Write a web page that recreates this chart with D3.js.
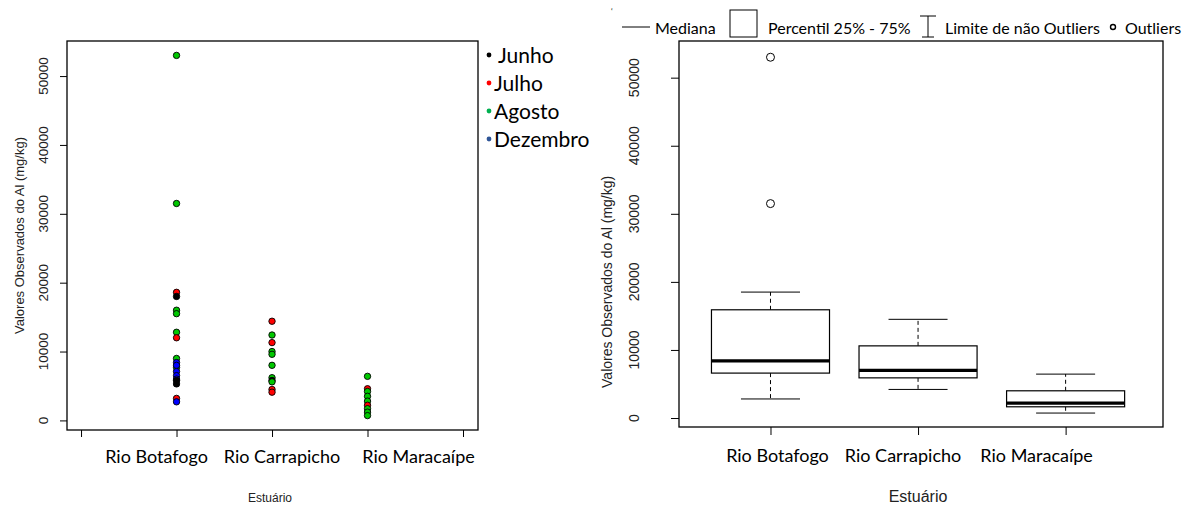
<!DOCTYPE html>
<html>
<head>
<meta charset="utf-8">
<script src="https://cdn.jsdelivr.net/npm/d3@7"></script>
<style>
  html, body { margin: 0; padding: 0; background: #fff; }
  svg { display: block; }
</style>
</head>
<body>
<svg id="chart" width="1184" height="506"></svg>
<script>
// ---------------- DATA ----------------
const categories = ["Rio Botafogo", "Rio Carrapicho", "Rio Maracaípe"];
const months = ["Junho", "Julho", "Agosto", "Dezembro"];
const yTicks = [0, 10000, 20000, 30000, 40000, 50000];

// observed values per estuary (mg/kg) and the month of each sample
const botafogoValues = [53000, 31500, 18600, 18000, 16000, 15500, 12800, 12000, 9000, 8400, 7700, 8000, 7100, 6500, 6000, 5800, 5300, 3200, 2700];
const botafogoMonths = ["Agosto", "Agosto", "Julho", "Junho", "Agosto", "Agosto", "Agosto", "Julho", "Agosto", "Dezembro", "Agosto", "Dezembro", "Dezembro", "Dezembro", "Dezembro", "Junho", "Junho", "Julho", "Dezembro"];
const carrapichoValues = [14400, 12400, 11300, 10000, 9600, 8000, 6200, 5800, 5600, 4500, 4100];
const carrapichoMonths = ["Julho", "Agosto", "Julho", "Agosto", "Agosto", "Agosto", "Agosto", "Junho", "Agosto", "Julho", "Julho"];
const maracaipeValues = [6400, 4600, 4200, 3500, 2800, 2200, 1700, 1200, 700];
const maracaipeMonths = ["Agosto", "Julho", "Agosto", "Agosto", "Agosto", "Julho", "Agosto", "Agosto", "Agosto"];

// box-plot statistics
const whiskerLow  = [2800, 4200, 730];
const quartile1   = [6600, 5900, 1650];
const medians     = [8400, 7000, 2200];
const quartile3   = [15900, 10600, 4000];
const whiskerHigh = [18500, 14500, 6450];
const outliers    = [[31500, 53000], [], []];

// legend texts
const boxLegend = ["Mediana", "Percentil 25% - 75%", "Limite de não Outliers", "Outliers"];
const yTitle = "Valores Observados do Al (mg/kg)";
const xTitle = "Estuário";

// ---------------- STYLE / LAYOUT ----------------
const monthColor = { "Junho": "#000000", "Julho": "#ff0000", "Agosto": "#00c800", "Dezembro": "#0000ff" };
const legendBullet = { "Junho": "#000000", "Julho": "#ff0000", "Agosto": "#00b050", "Dezembro": "#2f5597" };
const ARIAL = "'Liberation Sans', Arial, sans-serif";
const NARROW = "'Liberation Sans Narrow', 'Arial Narrow', 'Liberation Sans', sans-serif";
const CALIBRI = "Lato, Carlito, Calibri, sans-serif";

const svg = d3.select("#chart");

const valuesByCat = [botafogoValues, carrapichoValues, maracaipeValues];
const monthsByCat = [botafogoMonths, carrapichoMonths, maracaipeMonths];
const points = [];
valuesByCat.forEach((vals, ci) => vals.forEach((v, i) => points.push({ cat: ci, value: v, month: monthsByCat[ci][i] })));

// ============ LEFT PANEL (strip chart) ============
const L = { left: 67, right: 478, top: 41, bottom: 430 };
const xL = d3.scaleLinear().domain([-0.147, 4.157]).range([L.left, L.right]);
const yL = d3.scaleLinear().domain([-1392, 55092]).range([L.bottom, L.top]);

const gL = svg.append("g");
gL.append("rect").attr("x", L.left).attr("y", L.top)
  .attr("width", L.right - L.left).attr("height", L.bottom - L.top)
  .attr("fill", "none").attr("stroke", "#000").attr("stroke-width", 1.3);

// y axis (R style, outward ticks, rotated labels)
const yAxisL = gL.append("g").attr("transform", `translate(${L.left},0)`)
  .call(d3.axisLeft(yL).tickValues(yTicks).tickSize(7).tickFormat(""));
yAxisL.select(".domain").attr("stroke", "none");
yAxisL.selectAll("line").attr("stroke", "#000");
gL.selectAll(".ytl").data(yTicks).join("text")
  .attr("transform", d => `translate(43,${yL(d)}) rotate(-90)`)
  .attr("text-anchor", "middle").attr("dominant-baseline", "central")
  .attr("font-family", ARIAL).attr("font-size", 13.5).attr("fill", "#222")
  .text(d => d);
gL.append("text").attr("transform", `translate(19,${(L.top + L.bottom) / 2}) rotate(-90)`)
  .attr("text-anchor", "middle").attr("dominant-baseline", "central")
  .attr("font-family", ARIAL).attr("font-size", 13).attr("fill", "#222").text(yTitle);

// x axis ticks 0..4
const xAxisL = gL.append("g").attr("transform", `translate(0,${L.bottom})`)
  .call(d3.axisBottom(xL).tickValues([0, 1, 2, 3, 4]).tickSize(7).tickFormat(""));
xAxisL.select(".domain").attr("stroke", "none");
xAxisL.selectAll("line").attr("stroke", "#000");
const labelShiftL = [-20, 10, 51];
gL.selectAll(".xcl").data(categories).join("text")
  .attr("x", (d, i) => xL(i + 1) + labelShiftL[i]).attr("y", 456)
  .attr("text-anchor", "middle").attr("dominant-baseline", "central")
  .attr("font-family", CALIBRI).attr("font-size", 18).attr("fill", "#000").text(d => d);
gL.append("text").attr("x", 270).attr("y", 498)
  .attr("text-anchor", "middle").attr("dominant-baseline", "central")
  .attr("font-family", NARROW).attr("font-size", 12).attr("fill", "#222").text(xTitle);

// points
gL.selectAll(".pt").data(points).join("circle")
  .attr("cx", d => xL(d.cat + 1)).attr("cy", d => yL(d.value)).attr("r", 3.2)
  .attr("fill", d => monthColor[d.month]).attr("stroke", "#000").attr("stroke-width", 0.9);

// month legend
const legL = gL.append("g");
const legY = d3.scalePoint().domain(months).range([54, 138]);
legL.selectAll("circle").data(months).join("circle")
  .attr("cx", 489).attr("cy", d => legY(d) + 1).attr("r", 2.4).attr("fill", d => legendBullet[d]);
legL.selectAll("text").data(months).join("text")
  .attr("x", (d, i) => i === 0 ? 498 : 494).attr("y", d => legY(d))
  .attr("dominant-baseline", "central").attr("font-family", CALIBRI).attr("font-size", 21)
  .attr("fill", "#000").text(d => d);

// ============ RIGHT PANEL (box plot) ============
const R = { left: 679, right: 1163, top: 41, bottom: 427 };
const xR = d3.scaleLinear().domain([0.38, 3.66]).range([R.left, R.right]);
const yR = d3.scaleLinear().domain([-1392, 55092]).range([427.5, 43]);
const gR = svg.append("g");
gR.append("rect").attr("x", R.left).attr("y", R.top)
  .attr("width", R.right - R.left).attr("height", R.bottom - R.top)
  .attr("fill", "none").attr("stroke", "#000").attr("stroke-width", 1.3);

const yAxisR = gR.append("g").attr("transform", `translate(${R.left},0)`)
  .call(d3.axisLeft(yR).tickValues(yTicks).tickSize(8).tickFormat(""));
yAxisR.select(".domain").attr("stroke", "none");
yAxisR.selectAll("line").attr("stroke", "#000");
gR.selectAll(".ytr").data(yTicks).join("text")
  .attr("transform", d => `translate(634,${yR(d)}) rotate(-90)`)
  .attr("text-anchor", "middle").attr("dominant-baseline", "central")
  .attr("font-family", ARIAL).attr("font-size", 14).attr("fill", "#222").text(d => d);
gR.append("text").attr("transform", `translate(607,${yR(20000)}) rotate(-90)`)
  .attr("text-anchor", "middle").attr("dominant-baseline", "central")
  .attr("font-family", ARIAL).attr("font-size", 14).attr("fill", "#222").text(yTitle);

const xAxisR = gR.append("g").attr("transform", `translate(0,${R.bottom})`)
  .call(d3.axisBottom(xR).tickValues([1, 2, 3]).tickSize(8).tickFormat(""));
xAxisR.select(".domain").attr("stroke", "none");
xAxisR.selectAll("line").attr("stroke", "#000");
const labelShiftR = [7, -15, -29];
gR.selectAll(".xcr").data(categories).join("text")
  .attr("x", (d, i) => xR(i + 1) + labelShiftR[i]).attr("y", 455)
  .attr("text-anchor", "middle").attr("dominant-baseline", "central")
  .attr("font-family", CALIBRI).attr("font-size", 18).attr("fill", "#000").text(d => d);
gR.append("text").attr("x", 918).attr("y", 496)
  .attr("text-anchor", "middle").attr("dominant-baseline", "central")
  .attr("font-family", ARIAL).attr("font-size", 16).attr("fill", "#222").text(xTitle);

const boxW = 0.8, capW = 0.4;
const boxes = categories.map((c, i) => ({ i, lo: whiskerLow[i], q1: quartile1[i], med: medians[i], q3: quartile3[i], hi: whiskerHigh[i], out: outliers[i] }));
const bg = gR.selectAll(".box").data(boxes).join("g");
// whiskers (dashed)
bg.append("line").attr("x1", d => xR(d.i + 1)).attr("x2", d => xR(d.i + 1))
  .attr("y1", d => yR(d.q3)).attr("y2", d => yR(d.hi))
  .attr("stroke", "#000").attr("stroke-dasharray", "4,3");
bg.append("line").attr("x1", d => xR(d.i + 1)).attr("x2", d => xR(d.i + 1))
  .attr("y1", d => yR(d.q1)).attr("y2", d => yR(d.lo))
  .attr("stroke", "#000").attr("stroke-dasharray", "4,3");
// caps
bg.append("line").attr("x1", d => xR(d.i + 1 - capW / 2)).attr("x2", d => xR(d.i + 1 + capW / 2))
  .attr("y1", d => yR(d.hi)).attr("y2", d => yR(d.hi)).attr("stroke", "#000");
bg.append("line").attr("x1", d => xR(d.i + 1 - capW / 2)).attr("x2", d => xR(d.i + 1 + capW / 2))
  .attr("y1", d => yR(d.lo)).attr("y2", d => yR(d.lo)).attr("stroke", "#000");
// box
bg.append("rect").attr("x", d => xR(d.i + 1 - boxW / 2)).attr("width", d => xR(d.i + 1 + boxW / 2) - xR(d.i + 1 - boxW / 2))
  .attr("y", d => yR(d.q3)).attr("height", d => yR(d.q1) - yR(d.q3))
  .attr("fill", "#fff").attr("stroke", "#000").attr("stroke-width", 1.2);
// median
bg.append("line").attr("x1", d => xR(d.i + 1 - boxW / 2)).attr("x2", d => xR(d.i + 1 + boxW / 2))
  .attr("y1", d => yR(d.med)).attr("y2", d => yR(d.med)).attr("stroke", "#000").attr("stroke-width", 3.2);
// outliers
bg.selectAll(".out").data(d => d.out.map(v => ({ i: d.i, v }))).join("circle")
  .attr("cx", d => xR(d.i + 1)).attr("cy", d => yR(d.v)).attr("r", 4)
  .attr("fill", "none").attr("stroke", "#000").attr("stroke-width", 1);

// box legend along the top
const lg = svg.append("g").attr("font-family", CALIBRI).attr("font-size", 16).attr("fill", "#000");
lg.append("text").attr("x", 611).attr("y", 14).attr("font-size", 8).text("‘");
lg.append("line").attr("x1", 622).attr("x2", 650).attr("y1", 27).attr("y2", 27).attr("stroke", "#000");
lg.append("text").attr("x", 655).attr("y", 27).attr("dominant-baseline", "central").text(boxLegend[0]);
lg.append("rect").attr("x", 730).attr("y", 10).attr("width", 27).attr("height", 27).attr("fill", "none").attr("stroke", "#000");
lg.append("text").attr("x", 768).attr("y", 27).attr("dominant-baseline", "central").text(boxLegend[1]);
lg.append("path").attr("d", "M920,16H936M928,16V37M922,37H934").attr("stroke", "#000").attr("fill", "none");
lg.append("text").attr("x", 945).attr("y", 27).attr("dominant-baseline", "central").text(boxLegend[2]);
lg.append("circle").attr("cx", 1113).attr("cy", 27).attr("r", 2.5).attr("fill", "none").attr("stroke", "#000").attr("stroke-width", 1.4);
lg.append("text").attr("x", 1125).attr("y", 27).attr("dominant-baseline", "central").text(boxLegend[3]);
</script>
</body>
</html>
